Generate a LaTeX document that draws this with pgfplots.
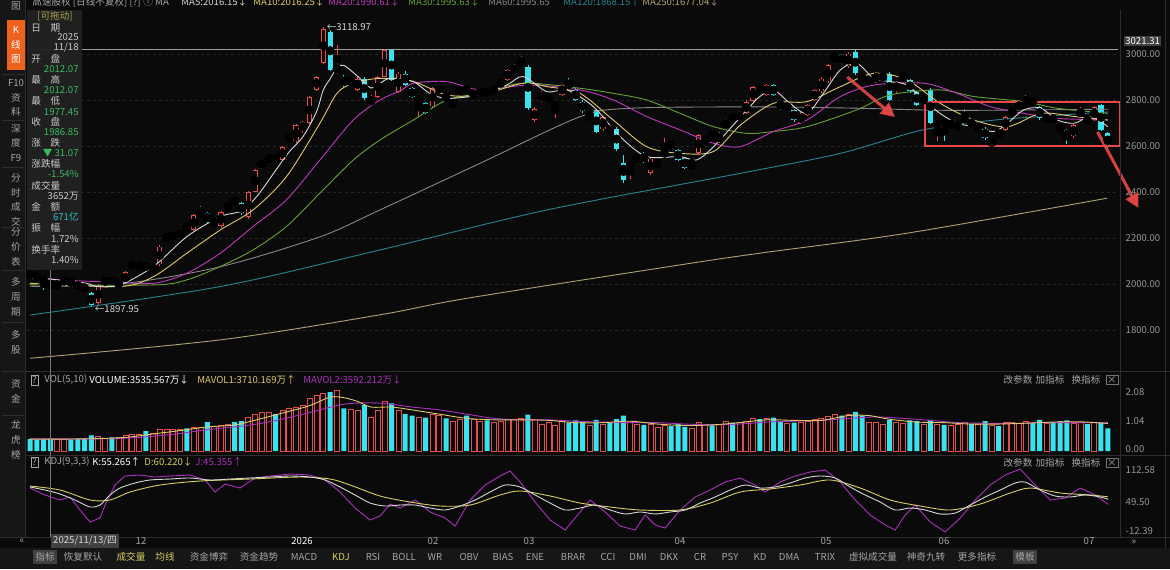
\documentclass[border=0pt]{standalone}
\usepackage{pgfplots}
\pgfplotsset{compat=1.18}
\usepackage{pgfplotstable}
\usepackage{fontspec}
\setmainfont{Noto Sans CJK SC}
\usetikzlibrary{arrows.meta}
\definecolor{bg}{RGB}{10,10,10}
\definecolor{tb}{RGB}{22,22,22}
\definecolor{sep}{RGB}{45,45,45}
\definecolor{gridc}{RGB}{36,36,36}
\definecolor{axgray}{RGB}{150,150,150}
\definecolor{txt}{RGB}{165,165,165}
\definecolor{cred}{RGB}{228,78,76}
\definecolor{ccyan}{RGB}{58,226,238}
\definecolor{ma5}{RGB}{215,215,215}
\definecolor{ma10}{RGB}{222,200,110}
\definecolor{ma20}{RGB}{190,56,190}
\definecolor{ma30}{RGB}{100,162,54}
\definecolor{ma60}{RGB}{135,135,135}
\definecolor{ma120}{RGB}{38,132,146}
\definecolor{ma250}{RGB}{176,162,116}
\definecolor{kyel}{RGB}{214,206,96}
\definecolor{kmag}{RGB}{170,48,190}
\definecolor{orangeb}{RGB}{238,98,30}
\definecolor{gval}{RGB}{60,185,95}
\definecolor{annred}{RGB}{232,72,72}
\definecolor{panel}{RGB}{34,34,34}
\definecolor{hl}{RGB}{64,64,64}
\newcommand\fs{\fontsize{4.8}{5.6}\selectfont}
\newcommand\fv{\fontsize{4.8}{7.4}\selectfont}

\pgfplotstableread{
i o h l c v
0 2045 2052 2030 2035 0.42
1 2035 2042 2022 2028 0.40
2 2020 2028 1975 2018 0.41
3 2012 2012 1977 1987 0.44
4 1992 2008 1985 2000 0.40
5 2003 2030 1998 2022 0.42
6 2018 2022 1990 1998 0.41
7 2003 2008 1978 1984 0.42
8 1990 1996 1968 1976 0.43
9 1960 1966 1898 1910 0.55
10 1916 2002 1905 1996 0.50
11 2003 2028 1998 2020 0.45
12 2030 2036 1992 1998 0.48
13 1998 2010 1990 2003 0.47
14 2003 2058 2000 2052 0.55
15 2070 2100 2062 2092 0.60
16 2072 2095 2065 2088 0.58
17 2086 2092 2058 2066 0.70
18 2058 2088 2050 2082 0.62
19 2085 2170 2080 2163 0.75
20 2192 2220 2185 2212 0.78
21 2200 2226 2195 2218 0.76
22 2208 2232 2200 2226 0.78
23 2246 2260 2235 2240 0.80
24 2236 2304 2230 2298 0.82
25 2295 2340 2290 2317 0.85
26 2308 2315 2262 2272 1.02
27 2262 2282 2250 2276 0.88
28 2252 2318 2245 2313 0.90
29 2323 2356 2318 2350 0.95
30 2365 2372 2345 2355 1.02
31 2350 2356 2300 2310 1.05
32 2290 2405 2282 2400 1.20
33 2402 2500 2398 2494 1.30
34 2505 2545 2500 2537 1.35
35 2533 2560 2528 2555 1.38
36 2548 2562 2530 2545 1.30
37 2540 2600 2535 2595 1.45
38 2628 2650 2620 2636 1.50
39 2620 2695 2615 2690 1.55
40 2665 2710 2655 2705 1.62
41 2700 2818 2695 2813 1.85
42 2845 2905 2840 2900 1.95
43 2962 3119 2955 3110 2.02
44 3095 3105 2925 2932 2.08
45 2925 3040 2915 2945 2.15
46 2900 2908 2855 2866 1.50
47 2878 2890 2870 2882 1.48
48 2845 2898 2838 2892 1.45
49 2892 2900 2800 2808 1.62
50 2780 2820 2772 2813 1.20
51 2815 2905 2810 2900 1.45
52 2902 3022 2898 3016 1.75
53 3016 3022 2882 2888 1.68
54 2836 2922 2830 2915 1.42
55 2915 2925 2860 2866 1.30
56 2850 2855 2808 2815 1.25
57 2797 2812 2728 2803 1.20
58 2786 2792 2738 2743 1.18
59 2772 2858 2766 2850 1.30
60 2846 2862 2840 2853 1.25
61 2817 2830 2790 2814 1.15
62 2782 2796 2770 2790 1.05
63 2823 2862 2818 2857 1.10
64 2851 2858 2832 2838 1.25
65 2816 2840 2810 2835 1.10
66 2833 2845 2828 2838 1.05
67 2843 2850 2818 2824 1.08
68 2837 2856 2832 2850 1.00
69 2859 2892 2855 2886 1.05
70 2888 2935 2884 2930 1.10
71 2917 2956 2912 2950 1.12
72 2953 2990 2948 2972 1.15
73 2945 2952 2758 2765 1.28
74 2713 2768 2705 2760 1.10
75 2810 2840 2790 2818 0.95
76 2794 2826 2788 2820 1.00
77 2766 2795 2720 2790 0.90
78 2823 2870 2818 2864 1.05
79 2878 2895 2846 2852 1.00
80 2843 2850 2795 2801 1.08
81 2793 2798 2745 2750 1.02
82 2732 2745 2710 2737 0.90
83 2756 2762 2655 2663 1.10
84 2672 2732 2665 2726 0.95
85 2684 2690 2650 2656 0.98
86 2676 2682 2578 2585 1.12
87 2524 2560 2440 2453 1.25
88 2512 2525 2455 2522 1.00
89 2533 2566 2528 2560 0.95
90 2567 2572 2528 2533 0.92
91 2482 2550 2476 2545 0.95
92 2511 2544 2505 2538 0.85
93 2566 2633 2560 2570 0.90
94 2608 2614 2595 2600 0.88
95 2582 2588 2535 2540 0.95
96 2546 2552 2500 2505 0.85
97 2522 2532 2500 2527 0.80
98 2570 2652 2565 2646 1.02
99 2622 2634 2616 2628 0.95
100 2640 2670 2630 2636 0.90
101 2620 2660 2614 2653 0.95
102 2678 2718 2672 2712 1.05
103 2733 2740 2708 2714 1.00
104 2714 2752 2708 2747 1.02
105 2743 2798 2738 2792 1.05
106 2795 2862 2790 2856 1.15
107 2850 2870 2836 2842 1.12
108 2823 2870 2818 2864 1.15
109 2864 2870 2816 2823 1.18
110 2793 2798 2758 2765 1.05
111 2768 2780 2760 2774 0.98
112 2756 2762 2706 2714 1.00
113 2700 2746 2694 2741 1.02
114 2736 2782 2730 2777 1.05
115 2800 2848 2795 2843 1.10
116 2837 2898 2830 2893 1.15
117 2881 2956 2875 2950 1.22
118 2984 2996 2970 2992 1.30
119 2995 3000 2955 2961 1.25
120 2946 3008 2940 3002 1.30
121 3010 3020 2910 2917 1.38
122 2908 2914 2874 2881 1.25
123 2866 2906 2860 2900 1.00
124 2881 2920 2875 2915 1.02
125 2898 2910 2892 2904 0.95
126 2915 2922 2795 2801 1.10
127 2837 2884 2830 2878 1.00
128 2898 2920 2892 2905 0.98
129 2886 2892 2830 2837 1.08
130 2835 2840 2772 2779 1.05
131 2798 2808 2790 2802 0.95
132 2843 2850 2694 2700 1.10
133 2690 2700 2620 2694 0.95
134 2703 2708 2620 2697 0.92
135 2685 2710 2680 2705 0.90
136 2678 2704 2672 2698 0.95
137 2707 2760 2700 2727 1.00
138 2700 2712 2690 2698 0.95
139 2671 2695 2665 2690 0.95
140 2676 2682 2628 2634 1.05
141 2616 2628 2600 2622 0.90
142 2657 2662 2640 2652 0.88
143 2670 2732 2664 2727 1.00
144 2736 2768 2730 2763 1.02
145 2758 2798 2752 2792 0.98
146 2779 2823 2774 2799 1.05
147 2795 2800 2786 2791 1.00
148 2770 2776 2715 2721 1.10
149 2714 2732 2708 2727 0.98
150 2727 2732 2702 2707 1.00
151 2691 2696 2656 2663 1.05
152 2670 2675 2610 2634 1.08
153 2642 2696 2636 2691 0.98
154 2729 2768 2722 2762 1.00
155 2716 2722 2705 2710 0.95
156 2714 2775 2708 2770 1.00
157 2778 2784 2664 2671 1.00
158 2655 2660 2585 2598 0.80
}\kdata

\pgfplotsset{
  kpanel/.style={scale only axis, anchor=south west, width=545.5pt,
    xmin=-0.44, xmax=159.5, axis line style={draw=none},
    major tick length=0pt, xtick=\empty, yticklabel pos=right,
    yticklabel style={font=\fs, text=axgray, anchor=west, xshift=0.3pt},
    clip=false},
  upc/.style={restrict expr to domain={\thisrow{c}-\thisrow{o}}{0:10000}},
  dnc/.style={restrict expr to domain={\thisrow{c}-\thisrow{o}}{-10000:-0.001}},
}

\begin{document}
\begin{tikzpicture}
\useasboundingbox (0,0) rectangle (585pt,284.5pt);
\fill[bg] (0,0) rectangle (585pt,284.5pt);

% ================= main price panel =================
\begin{axis}[kpanel, at={(13.5pt,100.5pt)}, height=179pt,
  ymin=1634.7, ymax=3191.3,
  ytick={1800,2000,2200,2400,2600,2800,3000},
  yticklabels={1800.00,2000.00,2200.00,2400.00,2600.00,2800.00,3000.00},
  ymajorgrids, grid style={gridc, line width=0.3pt, dash pattern=on 1.5pt off 1.5pt}]
\addplot[ma60!80, line width=0.5pt] coordinates {(-0.44,3021.31) (159.5,3021.31)};
% wicks
\addplot[only marks, mark=none, upc, error bars/.cd, y dir=both, y explicit, error mark=none,
  error bar style={line width=0.45pt, color=cred}]
  table[x=i, y expr={(\thisrow{h}+\thisrow{l})/2}, y error expr={(\thisrow{h}-\thisrow{l})/2}] {\kdata};
\addplot[only marks, mark=none, dnc, error bars/.cd, y dir=both, y explicit, error mark=none,
  error bar style={line width=0.45pt, color=ccyan}]
  table[x=i, y expr={(\thisrow{h}+\thisrow{l})/2}, y error expr={(\thisrow{h}-\thisrow{l})/2}] {\kdata};
% bodies
\addplot[only marks, mark=none, upc, error bars/.cd, y dir=both, y explicit, error mark=none,
  error bar style={line width=2.6pt, color=cred}]
  table[x=i, y expr={(\thisrow{o}+\thisrow{c})/2}, y error expr={max(abs(\thisrow{c}-\thisrow{o})/2,2.4)}] {\kdata};
\addplot[only marks, mark=none, upc, error bars/.cd, y dir=both, y explicit, error mark=none,
  error bar style={line width=1.7pt, color=bg}]
  table[x=i, y expr={(\thisrow{o}+\thisrow{c})/2}, y error expr={max(abs(\thisrow{c}-\thisrow{o})/2-3.6,0)}] {\kdata};
\addplot[only marks, mark=none, dnc, error bars/.cd, y dir=both, y explicit, error mark=none,
  error bar style={line width=2.6pt, color=ccyan}]
  table[x=i, y expr={(\thisrow{o}+\thisrow{c})/2}, y error expr={max(abs(\thisrow{c}-\thisrow{o})/2,2.4)}] {\kdata};
% moving averages
\addplot[ma250, line width=0.45pt, smooth] coordinates {(0,1677) (27.9,1757) (51.3,1866) (64.1,1938) (95.3,2083) (107,2134) (128.6,2221) (157.9,2373)};
\addplot[ma120, line width=0.45pt, smooth] coordinates {(0,1865) (27.9,1989) (51.3,2148) (75.8,2322) (104.1,2481) (118.8,2568) (130.9,2670) (142.2,2715) (158.1,2748)};
\addplot[ma60, line width=0.45pt, smooth] coordinates {(0,1990) (13.2,2000) (27.9,2075) (42.5,2205) (51.3,2322) (66,2525) (80.6,2727) (88,2764) (105.6,2770) (120.2,2765) (134.9,2755) (158.1,2760)};
\addplot[ma30, line width=0.45pt, smooth] coordinates {(0,1996) (18.1,1996) (23,2018) (27.9,2076) (32.7,2148) (37.6,2250) (42.5,2395) (47.4,2539) (51.3,2626) (56.2,2713) (61.1,2800) (66,2829) (72.3,2873) (80.6,2851) (85.5,2829) (90.4,2800) (95.3,2742) (100.2,2684) (105.1,2655) (109,2663) (113.9,2684) (121.2,2757) (126.1,2822) (133.4,2844) (138.4,2815) (145.7,2793) (150.6,2764) (158,2742)};
\addplot[ma20, line width=0.45pt, smooth] coordinates {(0,2025) (8.3,2012) (11.2,2010) (18.1,2003) (23,2047) (27.9,2134) (32.7,2250) (37.6,2366) (42.5,2539) (47.4,2713) (51.3,2800) (54.3,2840) (56.2,2873) (61.1,2880) (66,2844) (73.3,2865) (80.6,2844) (85.5,2800) (90.4,2728) (95.3,2670) (100.2,2612) (104.1,2597) (109,2663) (113.9,2713) (118.8,2815) (123.7,2865) (131,2873) (135.9,2829) (140.8,2771) (145.7,2742) (150.6,2720) (158,2713)};
\addplot[ma10, line width=0.45pt, smooth] coordinates {(0,2003) (13.2,1989) (18.1,2032) (23,2134) (27.9,2235) (32.7,2322) (37.6,2467) (42.5,2699) (45,2829) (47.4,2873) (51.3,2894) (56.2,2880) (61.1,2822) (66,2822) (72.3,2873) (75.8,2858) (80.6,2829) (85.5,2713) (90.4,2597) (95.3,2568) (100.2,2576) (104.1,2690) (109,2786) (113.9,2793) (118.8,2858) (123.7,2916) (128.6,2887) (133.4,2786) (138.4,2713) (143.3,2684) (148.2,2742) (153.1,2728) (158,2713)};
\addplot[ma5, line width=0.45pt, smooth] coordinates {(0,2032) (4,2018) (8.3,2003) (9.8,1989) (13.2,1996) (18.1,2076) (23,2206) (27.9,2293) (31,2318) (33.5,2390) (37.6,2560) (40,2640) (42,2749) (43,2844) (44,2892) (45,2940) (46,2951) (48,2904) (50,2852) (52,2886) (53.2,2895) (56.2,2880) (58.6,2829) (61.1,2807) (66,2822) (69.9,2865) (72.3,2902) (75.8,2836) (78.7,2844) (82.6,2771) (86.5,2641) (90.4,2554) (95.3,2554) (97.7,2539) (100.2,2597) (105.1,2757) (107,2815) (109,2844) (111.4,2786) (113.9,2742) (116.3,2829) (118.8,2931) (121.2,2960) (123.7,2894) (126.1,2880) (128.6,2865) (131,2800) (133.4,2742) (135.9,2699) (138.4,2684) (141.3,2663) (143.3,2699) (145.7,2757) (148.2,2764) (150.6,2713) (153.1,2699) (155.5,2728) (158,2684)};
% annotations
\node[anchor=west, font=\fs, text=white!85!black, inner sep=0.5pt] at (axis cs:43.3,3119) {←3118.97};
\node[anchor=west, font=\fs, text=white!85!black, inner sep=0.5pt] at (axis cs:9.3,1893) {←1897.95};
\draw[annred, line width=1.2pt] (axis cs:131.2,2791) rectangle (axis cs:159.8,2600);
\draw[annred, opacity=0.9, line width=1.5pt, -{Triangle[width=7pt,length=7pt]}] (axis cs:119.8,2900) -- (axis cs:126.8,2726);
\draw[annred, opacity=0.9, line width=1.5pt, -{Triangle[width=7pt,length=7pt]}] (axis cs:156.5,2661) -- (axis cs:162.5,2330);
\node[fill=hl, text=white, font=\fs, inner sep=0.7pt, anchor=west] at (axis cs:160.3,3058) {3021.31};
\end{axis}

% ================= volume panel =================
\begin{axis}[kpanel, at={(13.5pt,58.5pt)}, height=34pt,
  ymin=-0.035, ymax=2.362, ytick={0,1.04,2.08}, yticklabels={\raisebox{2.5pt}{0.00},1.04,2.08}]
\addplot[ybar, bar width=2.5pt, bar shift=0pt, draw=cred, fill=bg, line width=0.35pt, upc]
  table[x=i, y=v] {\kdata};
\addplot[ybar, bar width=2.5pt, bar shift=0pt, draw=none, fill=ccyan, dnc]
  table[x=i, y=v] {\kdata};
\addplot[kmag, line width=0.45pt, smooth] coordinates {(0,0.43) (10,0.43) (14,0.45) (18,0.52) (22,0.62) (26,0.75) (30,0.85) (34,0.98) (38,1.18) (42,1.42) (46,1.65) (50,1.7) (53,1.65) (56,1.55) (60,1.45) (64,1.3) (68,1.15) (72,1.1) (76,1.1) (80,1.05) (84,1.02) (88,1.0) (92,1.0) (96,0.95) (100,0.93) (104,0.95) (108,1.02) (112,1.05) (116,1.08) (120,1.15) (124,1.2) (128,1.15) (132,1.08) (136,1.0) (140,0.98) (144,0.97) (148,1.0) (152,1.0) (158,1.0)};
\addplot[ma10, line width=0.45pt, smooth] coordinates {(0,0.42) (5,0.42) (10,0.44) (14,0.48) (18,0.6) (22,0.72) (26,0.85) (30,0.92) (34,1.15) (38,1.4) (41,1.6) (44,1.9) (46,1.88) (48,1.75) (50,1.55) (53,1.55) (56,1.45) (60,1.3) (64,1.15) (68,1.1) (72,1.1) (76,1.08) (80,1.0) (84,1.0) (88,1.05) (92,0.95) (96,0.9) (100,0.92) (104,1.0) (108,1.1) (112,1.08) (116,1.08) (120,1.25) (123,1.25) (126,1.12) (130,1.02) (134,1.0) (138,0.95) (142,0.95) (146,0.98) (150,1.02) (154,1.03) (158,0.97)};
\end{axis}

% ================= KDJ panel =================
\begin{axis}[kpanel, at={(13.5pt,16.5pt)}, height=35pt,
  ymin=-16.3, ymax=120.4, ytick={-12.39,49.5,112.58}, yticklabels={\raisebox{2.5pt}{-12.39},49.50,112.58}]
\addplot[kmag, line width=0.45pt] coordinates {(0,77.4) (2.2,63.8) (4.4,54.0) (5.87,59.9) (7.33,34.5) (8.8,11.0) (10.26,18.8) (11.0,44.2) (12.46,83.3) (13.93,100.9) (16.13,102.8) (18.33,98.9) (20.53,100.9) (23.46,102.8) (25.66,93.1) (27.13,69.6) (28.59,85.2) (30.79,77.4) (32.99,97.0) (35.19,100.9) (38.12,104.8) (41.06,102.8) (43.26,93.1) (45.45,69.6) (47.65,38.4) (49.85,14.9) (51.32,22.7) (52.79,46.2) (54.25,38.4) (56.45,54.0) (58.65,30.6) (60.85,18.8) (62.32,3.2) (64.52,54.0) (66.72,83.3) (68.91,100.9) (70.38,110.6) (71.85,89.1) (74.05,50.1) (76.25,14.9) (78.45,-4.6) (79.91,18.8) (82.11,54.0) (84.31,30.6) (86.51,3.2) (88.71,-4.6) (90.18,24.7) (91.64,5.2) (93.11,-0.7) (95.31,34.5) (97.51,59.9) (99.71,73.5) (101.91,89.1) (104.11,97.0) (106.3,83.3) (107.77,69.6) (109.97,89.1) (112.17,100.9) (114.37,108.7) (116.57,112.6) (118.77,89.1) (120.97,54.0) (123.17,24.7) (125.37,5.2) (126.83,-4.6) (128.3,24.7) (129.77,44.2) (131.96,11.0) (134.16,-8.5) (136.36,18.8) (138.56,54.0) (140.76,83.3) (142.96,102.8) (145.16,114.5) (147.36,83.3) (149.56,54.0) (151.76,57.9) (153.96,77.4) (156.16,63.8) (158.06,45.4)};
\addplot[kyel, line width=0.45pt, smooth] coordinates {(0,81.3) (4.4,73.5) (8.8,54.0) (11.73,54.0) (14.66,69.6) (19.06,83.3) (24.93,91.1) (32.26,95.0) (39.59,98.9) (43.99,95.0) (46.92,83.3) (51.32,61.8) (55.72,50.1) (60.12,42.3) (64.52,44.2) (68.91,63.8) (71.85,71.6) (76.25,61.8) (80.65,48.1) (85.04,40.3) (89.44,34.5) (95.31,34.5) (99.71,48.1) (104.11,69.6) (108.5,75.5) (112.9,83.3) (117.3,93.1) (121.7,77.4) (126.1,54.0) (130.5,42.3) (134.9,34.5) (139.3,46.2) (143.7,67.7) (146.63,77.4) (151.03,67.7) (155.43,63.8) (158.06,60.2)};
\addplot[ma5, line width=0.45pt, smooth] coordinates {(0,79.4) (2.2,73.5) (4.4,65.7) (6.6,54.0) (8.8,40.3) (10.26,44.2) (11.73,63.8) (13.2,77.4) (15.4,87.2) (17.6,93.1) (20.53,95.0) (23.46,97.0) (26.39,93.1) (29.33,95.0) (32.26,97.0) (35.19,98.9) (38.12,100.9) (41.06,98.9) (43.26,93.1) (45.45,79.4) (47.65,63.8) (49.85,48.1) (52.05,42.3) (54.25,44.2) (56.45,44.2) (58.65,38.4) (60.85,34.5) (63.05,42.3) (65.25,54.0) (67.45,69.6) (69.65,83.3) (71.85,79.4) (74.05,63.8) (76.25,48.1) (78.45,34.5) (80.65,38.4) (82.84,44.2) (85.04,34.5) (87.24,26.7) (89.44,30.6) (91.64,26.7) (93.84,30.6) (96.04,34.5) (98.24,48.1) (100.44,59.9) (102.64,73.5) (104.84,83.3) (107.04,77.4) (109.24,79.4) (111.44,87.2) (113.64,97.0) (115.84,100.9) (118.04,97.0) (120.23,79.4) (122.43,63.8) (124.63,50.1) (126.83,34.5) (129.03,38.4) (131.23,34.5) (133.43,26.7) (135.63,28.6) (137.83,44.2) (140.03,59.9) (142.23,73.5) (144.43,87.2) (145.89,89.1) (148.09,73.5) (150.29,61.8) (152.49,59.9) (154.69,63.8) (156.89,59.9) (158.06,55.3)};
\end{axis}

% ================= overlays in pixel coordinates =================
\begin{scope}[x=0.5pt, y=-0.5pt, shift={(0pt,284.5pt)}]
  % separators
  \draw[sep, line width=0.5pt] (25,371) -- (1170,371);
  \draw[sep, line width=0.5pt] (25,455) -- (1170,455);
  \draw[sep, line width=0.5pt] (0,537) -- (1170,537);
  \draw[sep, line width=0.5pt] (1120,10) -- (1120,537);
  \draw[sep, line width=0.5pt] (1165,0) -- (1165,569);
  % cursor line
  \draw[white!45!black, line width=0.35pt] (50.5,270) -- (50.5,537);
  % left toolbar
  \fill[tb] (0,0) rectangle (25,537);
  \draw[sep, line width=0.4pt] (25,0) -- (25,537);
  \foreach \yy in {74,120,167,227,270,322,371,415} {\draw[sep, line width=0.4pt] (2,\yy) -- (24,\yy);}
  \node[font=\fv, text=txt, align=center] at (16,6) {图};
  \fill[orangeb] (7,20) rectangle (25,70);
  \node[font=\fv, text=white, align=center] at (16,45) {K\\线\\图};
  \node[font=\fv, text=txt, align=center] at (16,98) {F10\\资\\料};
  \node[font=\fv, text=txt, align=center] at (16,143) {深\\度\\F9};
  \node[font=\fv, text=txt, align=center] at (16,200) {分\\时\\成\\交};
  \node[font=\fv, text=txt, align=center] at (16,247) {分\\价\\表};
  \node[font=\fv, text=txt, align=center] at (16,297) {多\\周\\期};
  \node[font=\fv, text=txt, align=center] at (16,342) {多\\股};
  \node[font=\fv, text=txt, align=center] at (16,391) {资\\金};
  \node[font=\fv, text=txt, align=center] at (16,440) {龙\\虎\\榜};
  % info panel
  \fill[panel, opacity=0.94] (27,10) rectangle (82,270);
  \node[font=\fs, text=kyel!80!black, anchor=west, inner sep=0] at (37,16) {[可拖动]};
  \foreach \yy/\lab in {28/日\quad 期, 59/开\quad 盘, 80/最\quad 高, 101/最\quad 低, 122/收\quad 盘, 143/涨\quad 跌, 164/涨跌幅, 186/成交量, 207/金\quad 额, 228/振\quad 幅, 250/换手率}
    {\node[font=\fs, text=white!80!black, anchor=west, inner sep=0] at (31,\yy) {\lab};}
  \node[font=\fs, text=white!80!black, anchor=east, inner sep=0] at (79,37) {2025};
  \node[font=\fs, text=white!80!black, anchor=east, inner sep=0] at (79,48) {11/18};
  \node[font=\fs, text=gval, anchor=east, inner sep=0] at (79,69) {2012.07};
  \node[font=\fs, text=gval, anchor=east, inner sep=0] at (79,90) {2012.07};
  \node[font=\fs, text=gval, anchor=east, inner sep=0] at (79,112) {1977.45};
  \node[font=\fs, text=gval, anchor=east, inner sep=0] at (79,132) {1986.85};
  \node[font=\fs, text=gval, anchor=east, inner sep=0] at (79,153) {▼ 31.07};
  \node[font=\fs, text=gval, anchor=east, inner sep=0] at (79,174) {-1.54\%};
  \node[font=\fs, text=white!80!black, anchor=east, inner sep=0] at (79,196) {3652万};
  \node[font=\fs, text=ccyan!85!black, anchor=east, inner sep=0] at (79,217) {671亿};
  \node[font=\fs, text=white!80!black, anchor=east, inner sep=0] at (79,239) {1.72\%};
  \node[font=\fs, text=white!80!black, anchor=east, inner sep=0] at (79,260) {1.40\%};
  % top header (slightly cut at the top edge, as in the screenshot)
  \node[font=\fs, text=txt, anchor=base west, inner sep=0] at (32,6) {高速股权 [日线不复权] [?]  ⓘ  MA};
  \node[font=\fs, text=ma5, anchor=base west, inner sep=0] at (181,6) {MA5:2016.15↓};
  \node[font=\fs, text=ma10, anchor=base west, inner sep=0] at (253,6) {MA10:2016.25↓};
  \node[font=\fs, text=ma20, anchor=base west, inner sep=0] at (328,6) {MA20:1990.61↓};
  \node[font=\fs, text=ma30, anchor=base west, inner sep=0] at (408,6) {MA30:1995.63↓};
  \node[font=\fs, text=ma60, anchor=base west, inner sep=0] at (488,6) {MA60:1995.65};
  \node[font=\fs, text=ma120, anchor=base west, inner sep=0] at (563,6) {MA120:1868.15↑};
  \node[font=\fs, text=ma250, anchor=base west, inner sep=0] at (642,6) {MA250:1677.04↓};
  % volume header
  \node[font=\fs, text=txt, draw=txt, line width=0.3pt, inner sep=0.6pt] at (34.5,380) {?};
  \node[font=\fs, text=txt, anchor=west, inner sep=0] at (44,380) {VOL(5,10)};
  \node[font=\fs, text=white, anchor=west, inner sep=0] at (89,380) {VOLUME:3535.567万↓};
  \node[font=\fs, text=ma10, anchor=west, inner sep=0] at (197,380) {MAVOL1:3710.169万↑};
  \node[font=\fs, text=kmag, anchor=west, inner sep=0] at (303,380) {MAVOL2:3592.212万↓};
  % KDJ header
  \node[font=\fs, text=txt, draw=txt, line width=0.3pt, inner sep=0.6pt] at (34.5,462) {?};
  \node[font=\fs, text=txt, anchor=west, inner sep=0] at (44,462) {KDJ(9,3,3)};
  \node[font=\fs, text=white, anchor=west, inner sep=0] at (92,462) {K:55.265↑};
  \node[font=\fs, text=kyel, anchor=west, inner sep=0] at (144,462) {D:60.220↓};
  \node[font=\fs, text=kmag, anchor=west, inner sep=0] at (195,462) {J:45.355↑};
  % panel buttons
  \foreach \yy in {380,463} {
    \node[font=\fs, text=txt, inner sep=0] at (1018,\yy) {改参数};
    \node[font=\fs, text=txt, inner sep=0] at (1050,\yy) {加指标};
    \node[font=\fs, text=txt, inner sep=0] at (1086,\yy) {换指标};
    \node[font=\fs, text=txt, draw=txt!70!black, line width=0.3pt, inner sep=0.6pt] at (1112,\yy) {×};
  }
  % date axis
  \node[font=\fs, text=txt] at (22,541) {«};
  \node[font=\fs, text=white!85!black, fill=hl, inner sep=1pt] at (85,541) {2025/11/13/四};
  \foreach \xx/\lab in {141/12, 433/02, 529/03, 680/04, 826/05, 944/06, 1089/07}
    {\node[font=\fs, text=txt] at (\xx,541) {\lab};}
  \node[font=\fs, text=white] at (302,541) {2026};
  \node[font=\fs, text=txt] at (1134,542) {»};
  % bottom toolbar
  \fill[tb] (0,548) rectangle (1170,569);
  \fill[hl] (33,550) rectangle (57,564);
  \fill[hl] (1013,550) rectangle (1037,564);
  \foreach \xx/\lab in {45/指标, 83/恢复默认, 209/资金博弈, 259/资金趋势, 304/MACD, 373/RSI, 404/BOLL, 435/WR, 469/OBV, 503/BIAS, 535/ENE, 573/BRAR, 608/CCI, 638/DMI, 669/DKX, 700/CR, 730/PSY, 760/KD, 789/DMA, 825/TRIX, 873/虚拟成交量, 926/神奇九转, 977/更多指标, 1025/模板}
    {\node[font=\fs, text=txt] at (\xx,557) {\lab};}
  \foreach \xx/\lab in {131/成交量, 165/均线, 341/KDJ}
    {\node[font=\fs, text=kyel] at (\xx,557) {\lab};}
\end{scope}
\end{tikzpicture}
\end{document}
